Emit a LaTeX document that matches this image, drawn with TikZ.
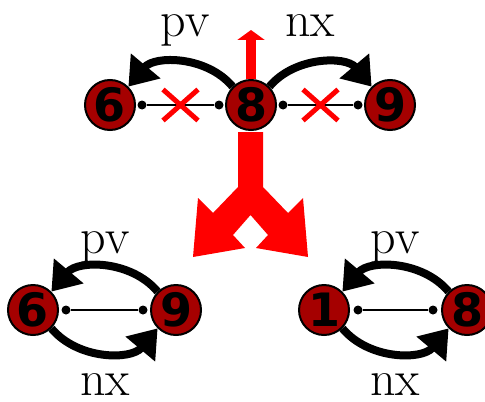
\documentclass[tikz,border=0pt]{standalone}
\usepackage{fontspec}
\newfontfamily\numfont{DejaVu Sans}
\usepackage{xcolor}
\usepackage{tikz}
\usetikzlibrary{arrows.meta, shapes.misc}
\definecolor{cellred}{RGB}{165,0,0}
\tikzstyle{cell} = [circle, draw=black, line width=1pt, fill=cellred, minimum size=25pt, inner sep=0pt, font=\numfont\bfseries\fontsize{23}{23}\selectfont]
\tikzstyle{knob} = [circle, fill=black, minimum size=4.5pt, inner sep=0pt]
\tikzstyle{link} = [line width=0.75pt]
\tikzstyle{ptr} = [line width=4pt, -{Triangle[length=13.5pt, width=18.5pt]}]
\tikzstyle{lbl} = [anchor=base, inner sep=2pt, font=\fontsize{25}{30}\selectfont]
\tikzstyle{xmark} = [cross out, draw=red, line width=2.5pt, minimum width=15pt, minimum height=13pt, inner sep=0pt]

\begin{document}
\begin{tikzpicture}[x=0.5pt, y=-0.5pt]
            \useasboundingbox (0,0) rectangle (485,401);

            % Nodes (top row)
            \node [cell] (six) at (110,105) {6};
            \node [cell] (eight) at (251,105) {8};
            \node [cell] (nine) at (390,105) {9};
            \node [knob] (s6) at (142,105) {};
            \node [knob] (w8) at (219,105) {};
            \node [knob] (e8) at (283,105) {};
            \node [knob] (s9) at (358,105) {};
            \node [lbl] (pvtop) at (185,37) {pv};
            \node [lbl] (nxtop) at (310,37) {nx};
            \coordinate (up) at (251,30);

            % Nodes (bottom left)
            \node [cell] (sixb) at (33,310) {6};
            \node [cell] (nineb) at (176,310) {9};
            \node [knob] (s6b) at (66,310) {};
            \node [knob] (s9b) at (143,310) {};
            \node [lbl] (pvleft) at (105,253) {pv};
            \node [lbl] (nxleft) at (105,395) {nx};

            % Nodes (bottom right)
            \node [cell] (oneb) at (324,310) {1};
            \node [cell] (eightb) at (467,310) {8};
            \node [knob] (s1b) at (358,310) {};
            \node [knob] (s8b) at (433,310) {};
            \node [lbl] (pvright) at (395,253) {pv};
            \node [lbl] (nxright) at (395,395) {nx};

            % Links
            \draw [link] (s6) -- (w8) node[midway, xmark] {};
            \draw [link] (e8) -- (s9) node[midway, xmark] {};
            \draw [link] (s6b) -- (s9b);
            \draw [link] (s1b) -- (s8b);

            % Arrows
            \draw [ptr] (eight.135) to[bend right=50] (six.45);
            \draw [ptr] (eight.45) to[bend left=50] (nine.135);
            \draw [ptr] (nineb.135) to[bend right=50] (sixb.45);
            \draw [ptr] (sixb.-45) to[bend right=50] (nineb.-135);
            \draw [ptr] (eightb.135) to[bend right=50] (oneb.45);
            \draw [ptr] (oneb.-45) to[bend right=50] (eightb.-135);
            \draw [red, line width=5pt, -{Triangle[length=5pt, width=13.5pt]}] (eight.north) -- (up);

            % Split
            \fill [red] (238,132) -- (238,187) -- (213,213) -- (198,198) -- (193,257) -- (245,248)
                -- (233,235) -- (250.5,215) -- (268,235) -- (256,248) -- (308,257) -- (303,198)
                -- (288,213) -- (263,187) -- (263,132) -- cycle;
        \end{tikzpicture}
\end{document}
